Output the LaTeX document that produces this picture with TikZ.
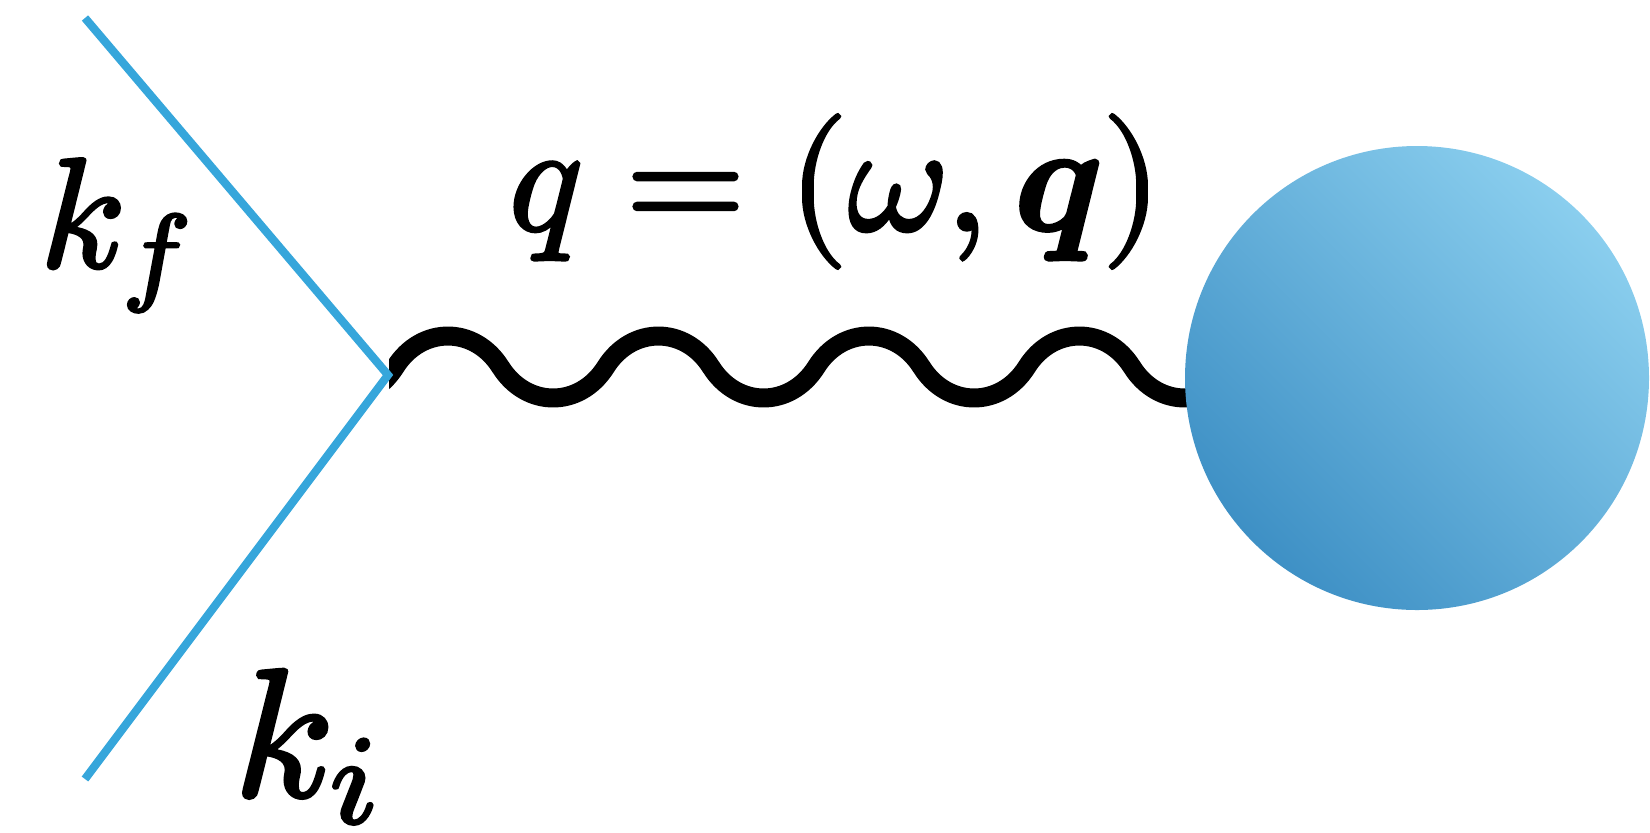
\documentclass[tikz,border=0pt]{standalone}
\usepackage{amsmath}
\usepackage{unicode-math}
\setmathfont{Latin Modern Math}[FakeBold=2.2]
\newcommand{\lowsub}[2]{#1\mkern-0.4mu\raisebox{-1.5pt}{$\scriptstyle #2$}}
\definecolor{lineblue}{RGB}{54,166,219}
\definecolor{blobtop}{RGB}{138,206,238}
\definecolor{blobbot}{RGB}{62,144,197}
\begin{document}
\begin{tikzpicture}[x=0.5pt,y=-0.5pt,
  fermion/.style={draw=lineblue, line width=4.1pt, line cap=butt, line join=miter},
  photon/.style={draw=black, line width=9.5pt, line join=round},
  txt/.style={inner sep=0pt, outer sep=0pt, scale=#1},
  txt/.default=7.8,
  blobstyle/.style={circle, inner sep=0pt, minimum size=232pt, shade,
    top color=blobtop, bottom color=blobbot, shading angle=-45}
]
\useasboundingbox (0,0) rectangle (1650,832);
\coordinate (kf) at (85,18);
\coordinate (v) at (388,375);
\coordinate (ki) at (85,779);
\coordinate (ws) at (290,367);
\coordinate (bc) at (1417,378);
\begin{scope}
  \clip (389,0) rectangle (1650,832);
  \draw[photon] (ws)
    \foreach \k in {1,...,5}{
      .. controls +(26,41.3) and +(-26,41.3) .. ++(105.25,0)
      .. controls +(26,-41.3) and +(-26,-41.3) .. ++(105.25,0)
    } -- (ws -| bc);
\end{scope}
\draw[fermion] (kf) -- (v) -- (ki);
\node[blobstyle] (blob) at (bc) {};
\node[txt, anchor=base west] (lkf) at (40,267) {$\lowsub{k}{f}$};
\node[txt=9.1, anchor=base west] (lki) at (234,796) {$\lowsub{k}{i}$};
\node[txt=7.7, anchor=base west] (lq) at (509,230) {$q=(\omega,\symbfit{q})$};
\end{tikzpicture}
\end{document}
